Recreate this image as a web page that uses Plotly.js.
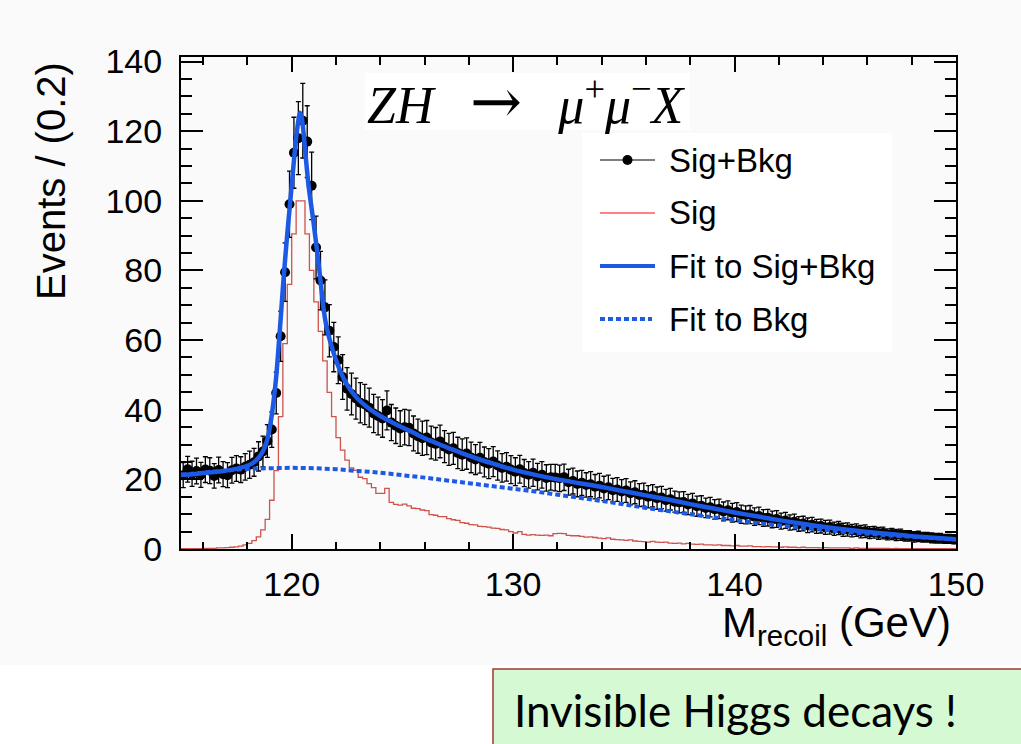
<!DOCTYPE html>
<html>
<head>
<meta charset="utf-8">
<script src="https://cdn.plot.ly/plotly-3.0.1.min.js"></script>
<style>
  html, body { margin: 0; padding: 0; background: #ffffff; }
  #chart { width: 1021px; height: 744px; }
</style>
</head>
<body>
<div id="chart"></div>
<script>
// ---------------- DATA ----------------
// histogram binning: 115 - 150 GeV, 0.2 GeV per bin (175 bins)
const binLow = 115.0;
const binWidth = 0.2;

// Sig+Bkg pseudo-data, events per bin
const sigBkg = [
  21.2, 22.9, 21.6, 22.4, 21.3, 22.8, 22.5, 21.0, 22.7, 21.5,
  21.2, 22.6, 23.1, 22.8, 23.6, 24.2, 24.9, 26.6, 28.0, 31.0,
  34.3, 44.8, 61.1, 79.5, 99.0, 113.8, 118.0, 123.0, 117.0, 104.3,
  86.6, 77.1, 69.4, 62.7, 58.0, 54.2, 49.4, 46.0, 44.5, 43.2,
  42.0, 41.5, 40.6, 38.9, 38.2, 37.5, 39.8, 36.3, 35.4, 34.6,
  35.0, 34.8, 33.2, 32.4, 31.8, 32.0, 30.6, 30.2, 30.9, 29.4,
  28.6, 28.9, 27.6, 27.1, 27.4, 26.3, 25.7, 26.2, 25.0, 24.5,
  25.1, 24.0, 23.3, 23.6, 22.8, 22.2, 22.9, 21.8, 21.3, 21.9,
  20.8, 21.3, 20.4, 20.6, 20.5, 20.3, 20.6, 19.2, 19.5, 18.7,
  19.0, 18.4, 18.6, 17.9, 18.2, 17.4, 17.7, 16.9, 17.1, 16.5,
  16.8, 16.0, 16.3, 15.5, 15.6, 15.0, 15.3, 14.6, 14.8, 14.0,
  14.3, 13.6, 13.4, 13.5, 12.8, 13.1, 12.3, 12.4, 11.8, 12.0,
  11.4, 11.5, 10.8, 11.1, 10.4, 10.6, 10.0, 9.8, 9.9, 9.3,
  9.5, 8.9, 9.0, 8.5, 8.6, 8.0, 8.2, 7.6, 7.8, 7.2,
  7.3, 6.8, 7.0, 6.5, 6.6, 6.2, 6.3, 5.8, 6.0, 5.5,
  5.6, 5.3, 5.4, 5.0, 5.1, 4.7, 4.8, 4.5, 4.6, 4.2,
  4.3, 4.0, 4.1, 3.8, 3.8, 3.5, 3.6, 3.4, 3.4, 3.2,
  3.1, 3.1, 2.9, 2.9, 2.8
];

// error bars on the Sig+Bkg points
const sigBkgErr = [
  3.6, 3.7, 3.6, 3.7, 3.6, 3.7, 3.7, 3.5, 3.7, 3.6,
  3.6, 3.7, 3.7, 3.7, 3.8, 3.9, 4.0, 4.2, 4.4, 4.7,
  5.1, 6.0, 7.2, 8.4, 9.5, 10.2, 10.5, 10.7, 10.3, 9.7,
  9.0, 8.4, 7.9, 7.5, 7.1, 6.7, 6.4, 6.1, 6.0, 5.9,
  5.8, 5.8, 5.6, 5.5, 5.4, 5.4, 5.6, 5.2, 5.1, 5.1,
  5.1, 5.1, 5.0, 4.9, 4.9, 4.9, 4.7, 4.7, 4.7, 4.6,
  4.6, 4.6, 4.5, 4.5, 4.5, 4.4, 4.3, 4.4, 4.3, 4.3,
  4.3, 4.2, 4.1, 4.1, 4.0, 4.0, 4.0, 3.9, 3.8, 3.9,
  3.8, 3.8, 3.8, 3.7, 3.8, 3.8, 3.8, 3.7, 3.7, 3.7,
  3.6, 3.5, 3.6, 3.5, 3.5, 3.5, 3.5, 3.4, 3.4, 3.4,
  3.4, 3.3, 3.3, 3.3, 3.3, 3.2, 3.2, 3.2, 3.2, 3.1,
  3.1, 3.0, 3.0, 3.0, 2.9, 2.9, 2.9, 2.9, 2.8, 2.8,
  2.8, 2.8, 2.7, 2.7, 2.7, 2.7, 2.6, 2.6, 2.6, 2.5,
  2.5, 2.4, 2.4, 2.4, 2.4, 2.3, 2.3, 2.2, 2.2, 2.1,
  2.1, 2.1, 2.1, 2.0, 2.0, 2.0, 2.0, 1.9, 1.9, 1.9,
  1.9, 1.8, 1.8, 1.8, 1.8, 1.7, 1.7, 1.7, 1.7, 1.6,
  1.6, 1.6, 1.6, 1.5, 1.5, 1.5, 1.5, 1.4, 1.4, 1.4,
  1.4, 1.4, 1.3, 1.3, 1.3
];

// Sig histogram, events per bin
const sig = [
  0.1, 0.1, 0.1, 0.1, 0.1, 0.2, 0.2, 0.2, 0.3, 0.3,
  0.4, 0.5, 0.6, 0.8, 1.2, 1.6, 2.4, 3.5, 5.5, 8.5,
  14, 22.5, 38, 59, 76, 90.5, 100, 100, 90.5, 80,
  71, 62.5, 54, 45, 38, 32, 28.4, 25.5, 23.3, 22.6,
  20.6, 20.2, 18.8, 17.6, 16.0, 16.0, 17.4, 13.4, 12.8, 12.6,
  12.9, 12.4, 11.7, 11.6, 11.2, 11.0, 9.9, 9.7, 9.3, 9.3,
  8.7, 8.4, 8.2, 7.6, 7.4, 7.0, 6.9, 6.5, 6.4, 6.3,
  6.0, 5.9, 5.6, 5.5, 5.0, 4.6, 5.0, 4.2, 4.0, 4.1,
  4.0, 3.9, 4.0, 3.8, 4.4, 4.5, 4.4, 3.9, 3.8, 3.8,
  3.6, 3.4, 3.5, 3.3, 3.1, 3.0, 3.2, 2.8, 2.7, 2.6,
  2.5, 2.6, 2.3, 2.2, 2.1, 2.0, 2.2, 2.0, 1.9, 2.0,
  1.7, 1.6, 1.7, 1.5, 1.6, 1.4, 1.3, 1.4, 1.2, 1.2,
  1.1, 1.2, 1.0, 1.0, 0.9, 1.0, 0.8, 0.8, 0.9, 0.7,
  0.7, 0.6, 0.7, 0.6, 0.6, 0.5, 0.6, 0.5, 0.5, 0.4,
  0.5, 0.4, 0.4, 0.4, 0.3, 0.4, 0.3, 0.3, 0.3, 0.3,
  0.3, 0.2, 0.3, 0.2, 0.2, 0.2, 0.2, 0.2, 0.2, 0.2,
  0.1, 0.2, 0.1, 0.1, 0.1, 0.1, 0.1, 0.1, 0.1, 0.1,
  0.1, 0.1, 0.1, 0.1, 0.1
];

// Fit to Sig+Bkg (solid blue curve), sampled along M_recoil
const fitM = [
  115.0, 115.5, 116.0, 116.5, 117.0, 117.5, 117.8, 118.0, 118.2, 118.4,
  118.6, 118.8, 118.9, 119.0, 119.1, 119.2, 119.3, 119.4, 119.5, 119.6,
  119.7, 119.8, 119.9, 120.0, 120.1, 120.2, 120.3, 120.37, 120.45, 120.55,
  120.65, 120.75, 120.85, 120.95, 121.05, 121.15, 121.25, 121.35, 121.45, 121.55,
  121.7, 121.85, 122.0, 122.2, 122.4, 122.6, 122.8, 123.0, 123.5, 124.0,
  124.5, 125.0, 125.5, 126.0, 126.5, 127.0, 127.5, 128.0, 128.5, 129.0,
  129.5, 130.0, 131.0, 132.0, 133.0, 134.0, 135.0, 136.0, 137.0, 138.0,
  139.0, 140.0, 141.0, 142.0, 143.0, 144.0, 145.0, 146.0, 147.0, 148.0,
  149.0, 150.0
];
const fitSigBkg = [
  21.3, 21.5, 21.8, 22.1, 22.5, 23.0, 23.5, 23.9, 24.5, 25.5,
  27.0, 29.5, 31.5, 34.5, 38.5, 43.5, 49.5, 57.5, 66.0, 75.0,
  83.0, 90.5, 97.5, 104.5, 111.5, 118.0, 123.0, 125.3, 124.0, 118.5,
  111.5, 105.0, 100.0, 95.5, 90.5, 85.5, 80.0, 74.0, 68.5, 64.5,
  60.5, 57.2, 54.3, 51.0, 48.3, 46.2, 44.5, 43.0, 40.3, 38.2,
  36.5, 34.9, 33.4, 31.8, 30.5, 29.2, 28.0, 26.8, 25.7, 24.7,
  23.7, 22.8, 21.3, 20.0, 18.9, 17.8, 16.6, 15.4, 14.2, 12.9,
  11.7, 10.5, 9.4, 8.3, 7.3, 6.4, 5.6, 4.9, 4.3, 3.7,
  3.2, 2.8
];

// Fit to Bkg (dashed blue curve)
const bkgM = [
  115, 116, 117, 118, 119, 120, 121, 122, 123, 124,
  125, 126, 127, 128, 129, 130, 131, 132, 133, 134,
  135, 136, 137, 138, 139, 140, 141, 142, 143, 144,
  145, 146, 147, 148, 149, 150
];
const fitBkg = [
  21.3, 21.9, 22.5, 23.0, 23.2, 23.3, 23.2, 22.9, 22.4, 21.9,
  21.2, 20.5, 19.7, 18.9, 18.1, 17.3, 16.5, 15.6, 14.7, 13.8,
  12.8, 11.8, 10.9, 10.0, 9.1, 8.3, 7.5, 6.8, 6.1, 5.5,
  4.9, 4.4, 3.9, 3.5, 3.1, 2.7
];

const legendLabels = ['Sig+Bkg', 'Sig', 'Fit to Sig+Bkg', 'Fit to Bkg'];
const titleText = '<i>ZH</i>\u2002\u2009<span style="font-family:\'DejaVu Serif\';font-size:62px">\u2192</span>\u2002\u2009<i>\u03bc</i><sup>+</sup><i>\u03bc</i><sup>\u2212</sup><i>X</i>';
const xTitleText = 'M<sub>recoil</sub> (GeV)';
const yTitleText = 'Events / (0.2)';
const noteText = 'Invisible Higgs decays !';

// ---------------- derived bin positions ----------------
const binCenters = sigBkg.map((_, i) => binLow + binWidth * (i + 0.5));
const binEdgesLeft = sig.map((_, i) => binLow + binWidth * i);
const stepX = binEdgesLeft.concat([binLow + binWidth * sig.length]);
const stepY = sig.concat([sig[sig.length - 1]]);

// ---------------- layout geometry (pixels) ----------------
const FW = 1021, FH = 744;
const L = 181, R = 956, T = 57, B = 549;
const PW = R - L, PH = B - T;
const px = x => (x - L) / PW;
const py = y => (B - y) / PH;

const BLUE = '#1c5ae6';
const RED = '#cd534c';

const traces = [
  { // Sig histogram
    x: stepX, y: stepY, type: 'scatter', mode: 'lines',
    line: { shape: 'hv', color: RED, width: 1.3 },
    hoverinfo: 'skip', showlegend: false
  },
  { // Sig+Bkg data
    x: binCenters, y: sigBkg, type: 'scatter', mode: 'markers',
    marker: { color: '#000000', size: 10 },
    error_y: { type: 'data', array: sigBkgErr, visible: true, color: '#000000', thickness: 1.3, width: 2.5 },
    hoverinfo: 'skip', showlegend: false
  },
  { // Fit to Bkg
    x: bkgM, y: fitBkg, type: 'scatter', mode: 'lines',
    line: { shape: 'spline', smoothing: 1, color: BLUE, width: 4, dash: '5px,3px' },
    hoverinfo: 'skip', showlegend: false
  },
  { // Fit to Sig+Bkg
    x: fitM, y: fitSigBkg, type: 'scatter', mode: 'lines',
    line: { shape: 'spline', smoothing: 0.8, color: BLUE, width: 4.5 },
    hoverinfo: 'skip', showlegend: false
  }
];

const shapes = [
  // white strip below the chart image (slide background)
  { type: 'rect', xref: 'paper', yref: 'paper', x0: px(-10), x1: px(FW + 10), y0: py(665), y1: py(FH + 10),
    fillcolor: '#ffffff', line: { width: 0 }, layer: 'above' },
  // green note box
  { type: 'rect', xref: 'paper', yref: 'paper', x0: px(493), x1: px(FW + 20), y0: py(669), y1: py(FH + 20),
    fillcolor: '#d5f9d3', line: { color: '#a8342c', width: 1.5 }, layer: 'above' },
  // title box
  { type: 'rect', xref: 'paper', yref: 'paper', x0: px(365), x1: px(690), y0: py(73), y1: py(130),
    fillcolor: '#ffffff', line: { width: 0 }, layer: 'above' },
  // legend box
  { type: 'rect', xref: 'paper', yref: 'paper', x0: px(582), x1: px(892), y0: py(133), y1: py(352),
    fillcolor: '#ffffff', line: { width: 0 }, layer: 'above' },
];

const rowsY = [160, 213, 266, 319];
// legend symbols
shapes.push({ type: 'line', xref: 'paper', yref: 'paper', x0: px(600), x1: px(655), y0: py(rowsY[0]), y1: py(rowsY[0]),
  line: { color: '#000000', width: 1.2 }, layer: 'above' });
shapes.push({ type: 'circle', xref: 'paper', yref: 'paper', x0: px(622.5), x1: px(632.5), y0: py(rowsY[0] - 5), y1: py(rowsY[0] + 5),
  fillcolor: '#000000', line: { color: '#000000', width: 0 }, layer: 'above' });
shapes.push({ type: 'line', xref: 'paper', yref: 'paper', x0: px(600), x1: px(655), y0: py(rowsY[1]), y1: py(rowsY[1]),
  line: { color: '#ff5a5a', width: 1.5 }, layer: 'above' });
shapes.push({ type: 'line', xref: 'paper', yref: 'paper', x0: px(600), x1: px(655), y0: py(rowsY[2]), y1: py(rowsY[2]),
  line: { color: BLUE, width: 4 }, layer: 'above' });
shapes.push({ type: 'line', xref: 'paper', yref: 'paper', x0: px(600), x1: px(652), y0: py(rowsY[3]), y1: py(rowsY[3]),
  line: { color: BLUE, width: 4, dash: '5px,3px' }, layer: 'above' });

const annotations = legendLabels.map((t, i) => ({
  text: t, xref: 'paper', yref: 'paper', x: px(667), y: py(rowsY[i]),
  xanchor: 'left', yanchor: 'middle', showarrow: false,
  font: { family: 'Liberation Sans, Arial, sans-serif', size: 33, color: '#000000' }
}));
annotations.push({
  text: titleText, xref: 'paper', yref: 'paper', x: px(526), y: py(101),
  xanchor: 'center', yanchor: 'middle', showarrow: false,
  font: { family: 'Liberation Serif, Times New Roman, serif', size: 52, color: '#000000' }
});
annotations.push({
  text: yTitleText, xref: 'paper', yref: 'paper', x: px(51), y: py(181),
  xanchor: 'center', yanchor: 'middle', textangle: -90, showarrow: false,
  font: { family: 'Liberation Sans, Arial, sans-serif', size: 40, color: '#000000' }
});
annotations.push({
  text: xTitleText, xref: 'paper', yref: 'paper', x: px(953), y: py(597),
  xanchor: 'right', yanchor: 'top', showarrow: false,
  font: { family: 'Liberation Sans, Arial, sans-serif', size: 42, color: '#000000' }
});
annotations.push({
  text: noteText, xref: 'paper', yref: 'paper', x: px(512), y: py(710),
  xanchor: 'left', yanchor: 'middle', showarrow: false,
  font: { family: 'Lato, Carlito, sans-serif', size: 44, color: '#000000' }
});

const axisFont = { family: 'Liberation Sans, Arial, sans-serif', size: 34, color: '#000000' };

const layout = {
  width: FW, height: FH,
  margin: { l: L, r: FW - R, t: T, b: FH - B, pad: 0 },
  paper_bgcolor: '#fafafa',
  plot_bgcolor: '#fafafa',
  showlegend: false,
  xaxis: {
    range: [115, 150], dtick: 10, tick0: 0,
    showgrid: false, zeroline: false,
    showline: true, linecolor: '#000000', linewidth: 2, mirror: 'allticks',
    ticks: 'inside', ticklen: 15, tickwidth: 2, tickcolor: '#000000',
    minor: { dtick: 2, ticks: 'inside', ticklen: 7.5, tickwidth: 2, tickcolor: '#000000', showgrid: false },
    tickfont: axisFont, ticklabelstandoff: 4, automargin: false
  },
  yaxis: {
    range: [0, 141.3], dtick: 20, tick0: 0,
    showgrid: false, zeroline: false,
    showline: true, linecolor: '#000000', linewidth: 2, mirror: 'allticks',
    ticks: 'inside', ticklen: 22, tickwidth: 2, tickcolor: '#000000',
    minor: { dtick: 5, ticks: 'inside', ticklen: 11, tickwidth: 2, tickcolor: '#000000', showgrid: false },
    tickfont: axisFont, ticklabelstandoff: 10, automargin: false
  },
  shapes: shapes,
  annotations: annotations
};

Plotly.newPlot('chart', traces, layout, { displayModeBar: false, staticPlot: true });
</script>
</body>
</html>
